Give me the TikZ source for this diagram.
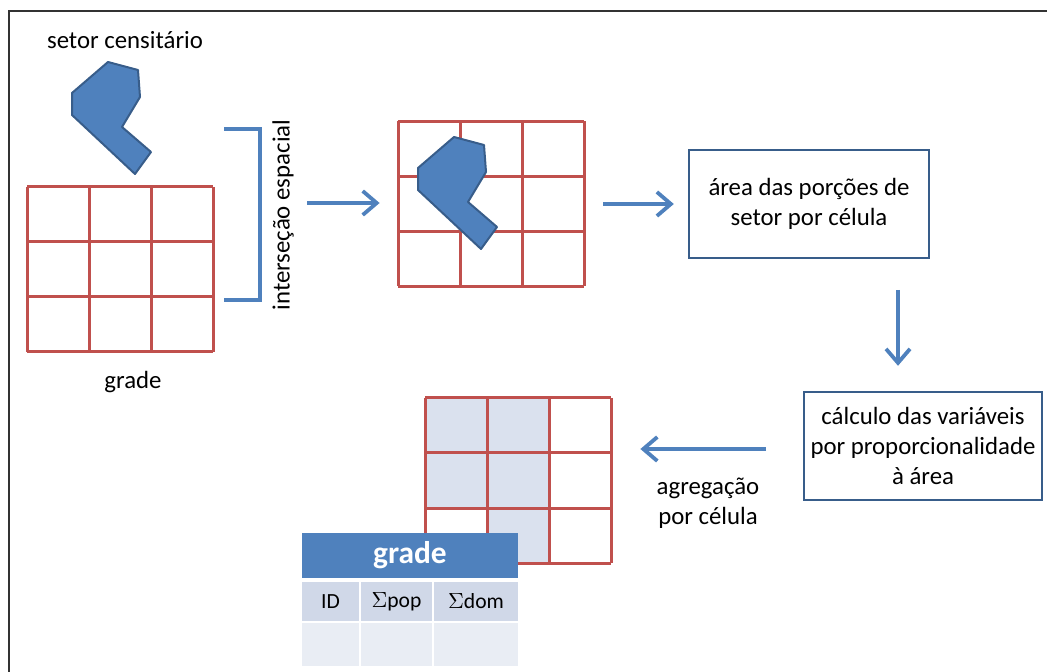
\documentclass[tikz,border=0pt]{standalone}
\usepackage{fontspec}
\setmainfont{Carlito}
\usetikzlibrary{arrows.meta,positioning}

\definecolor{azul}{HTML}{4F81BD}
\definecolor{azulesc}{HTML}{385D8A}
\definecolor{verm}{HTML}{C0504D}
\definecolor{celcheia}{HTML}{DAE1EE}
\definecolor{linhaA}{HTML}{D0D8E8}
\definecolor{linhaB}{HTML}{E9EDF4}

% grade 3x3 com canto superior esquerdo em (#1,#2)
\newcommand{\grelha}[2]{%
  \foreach \i in {0,1,2,3} {
    \draw[linha] (#1+\i*62,#2) -- (#1+\i*62,#2+165);
    \draw[linha] (#1,#2+\i*55) -- (#1+186,#2+\i*55);
  }}
% poligono do setor, deslocado de (#1,#2)
\newcommand{\setor}[2]{%
  \draw[poly,shift={(#1,#2)}] (108,62) -- (138,70) -- (140,97) -- (122,127)
    -- (151,152) -- (135,174) -- (72,115) -- (72,93) -- cycle;}

\begin{document}
\begin{tikzpicture}[x=0.5pt,y=-0.5pt,
  linha/.style={verm,line width=1.5pt},
  poly/.style={fill=azul,draw=azulesc,line width=1pt,line join=round},
  seta/.style={azul,line width=1.9pt,-{Straight Barb[length=7pt,width=12pt]}},
  txt/.style={font=\fontsize{12.4pt}{14.8pt}\selectfont,align=center,inner sep=0pt},
  caixa/.style={txt,draw=azulesc,line width=1.2pt,minimum width=120pt,minimum height=54pt},
  gradebox/.style={minimum width=93pt,minimum height=82.5pt,inner sep=0pt},
  cel/.style={txt,font=\fontsize{10.8pt}{13pt}\selectfont,minimum height=19.5pt}]
  \useasboundingbox (0,0) rectangle (1047,672);
  % moldura
  \draw[line width=1pt,black!80] (8.5,672) -- (8.5,11) -- (1047,11);

  % setor e grade de entrada
  \node[txt] (titsetor) at (125,40) {setor censitário};
  \setor{0}{0}
  \node[gradebox] (gradeA) at (120,270) {};
  \grelha{27}{187}
  \node[txt] (titgrade) at (133,382) {grade};

  % intersecao
  \draw[azul,line width=2pt] (224,129) -- (260,129) -- (260,300) -- (224,300);
  \node[txt,rotate=90] (rotulo) at (283,215) {interseção espacial};
  \node[gradebox] (interg) at (491,204) {};
  \grelha{398}{121.5}
  \setor{346}{75}

  % caixas
  \node[caixa] (caixa1) at (809,204) {área das porções de\\setor por célula};
  \node[caixa,minimum width=119pt] (caixa2) at (923,446)
    {cálculo das variáveis\\por proporcionalidade\\à área};

  % grade agregada
  \node[gradebox] (aggr) at (518,480.5) {};
  \fill[celcheia] (425,398) rectangle (487,508);
  \fill[celcheia] (487,398) rectangle (549,563);
  \grelha{425}{398}

  % setas
  \coordinate (s1) at (307,203);
  \draw[seta] (s1) -- (s1 -| interg.west) [shorten >=9pt];
  \draw[seta,shorten <=9.5pt,shorten >=7pt] (interg.east) -- (caixa1.west);
  \coordinate (s3) at (898,290);
  \draw[seta,shorten >=12.5pt] (s3) -- (s3 |- caixa2.north);
  \coordinate (s4) at (766,449);
  \draw[seta,shorten >=14.5pt] (s4) -- (s4 -| aggr.east);
  \node[txt] (rotagr) at (708,503) {agregação\\por célula};

  % tabela
  \node[fill=azul,text=white,minimum width=108pt,minimum height=22.5pt,inner sep=0pt,
    font=\fontsize{15.7pt}{18pt}\selectfont\bfseries] (tabela) at (410,555.5) {grade};
  \node[cel,fill=linhaA,minimum width=28.5pt] (c11) at (330.5,601.5) {ID};
  \node[cel,fill=linhaA,minimum width=35.5pt] (c12) at (396.5,601.5) {$\Sigma$pop};
  \node[cel,fill=linhaA,minimum width=42pt] (c13) at (476,601.5) {$\Sigma$dom};
  \node[cel,fill=linhaB,minimum width=28.5pt,minimum height=21.5pt] (c21) at (330.5,644.5) {};
  \node[cel,fill=linhaB,minimum width=35.5pt,minimum height=21.5pt] (c22) at (396.5,644.5) {};
  \node[cel,fill=linhaB,minimum width=42pt,minimum height=21.5pt] (c23) at (476,644.5) {};
\end{tikzpicture}
\end{document}
